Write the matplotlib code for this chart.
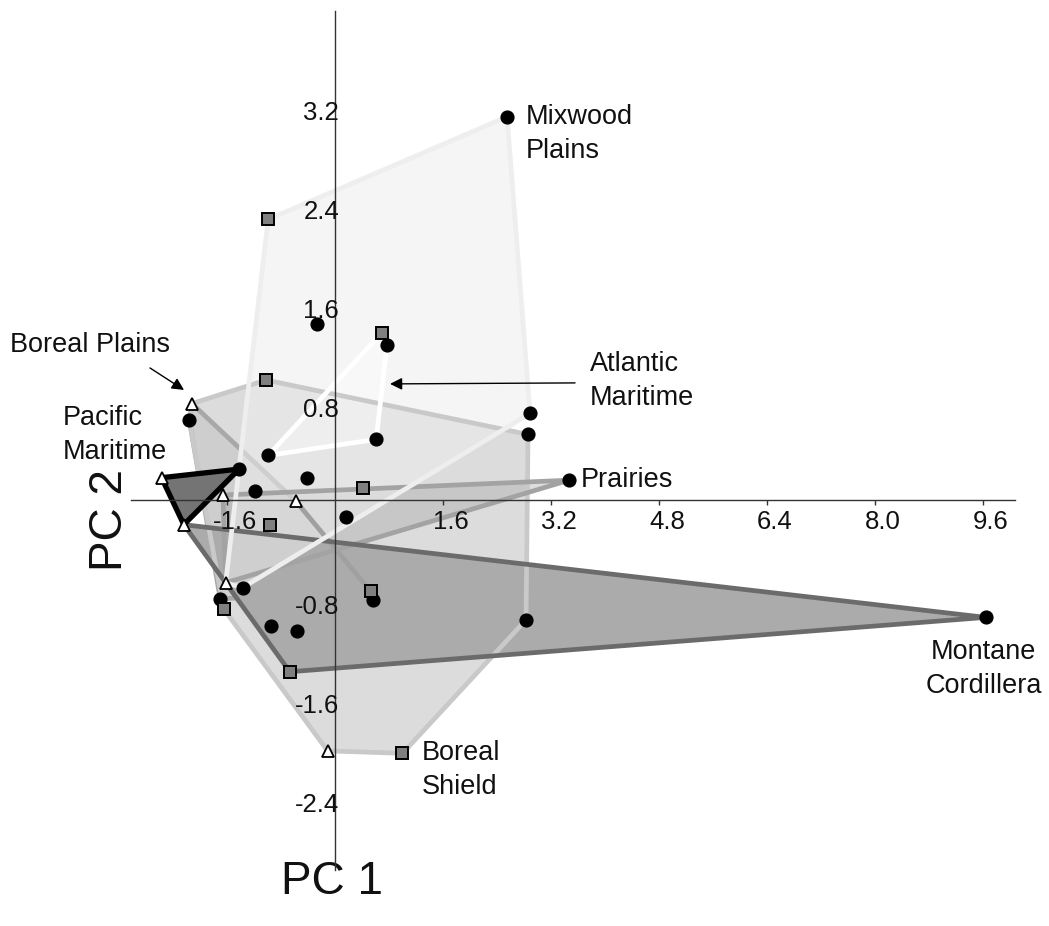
import matplotlib
matplotlib.use("Agg")
import matplotlib.pyplot as plt
from matplotlib.transforms import ScaledTranslation

plt.rcParams['font.family'] = ['Liberation Sans', 'DejaVu Sans']

# ---------------- data (PC scores) ----------------
circle_pc1 = [2.55, -0.26, 0.77, -2.16, 0.61, -0.99, -1.42, -0.42, -1.19, 0.17,
              2.89, 2.86, 3.47, -1.37, -1.70, -0.95, -0.56, 0.56, 2.83, 9.64]
circle_pc2 = [3.10, 1.42, 1.25, 0.65, 0.49, 0.36, 0.25, 0.18, 0.07, -0.14,
              0.70, 0.53, 0.16, -0.71, -0.80, -1.02, -1.06, -0.81, -0.97, -0.95]
triangle_pc1 = [-2.12, -2.57, -1.66, -0.58, -2.24, -1.62, -0.11]
triangle_pc2 = [0.78, 0.18, 0.04, -0.01, -0.20, -0.67, -2.03]
square_pc1 = [-0.99, 0.69, -1.02, 0.41, -0.97, 0.53, -1.65, -0.67, 1.00]
square_pc2 = [2.27, 1.35, 0.97, 0.10, -0.20, -0.74, -0.88, -1.39, -2.05]

# convex-hull vertices of each ecozone
mixwood_pc1 = [-0.99, 2.55, 2.89, -1.37, -1.62]
mixwood_pc2 = [2.27, 3.10, 0.70, -0.71, -0.67]
atlantic_pc1 = [-0.99, 0.69, 0.77, 0.61]
atlantic_pc2 = [0.36, 1.35, 1.25, 0.49]
shield_pc1 = [-2.12, -1.02, 2.86, 2.83, 1.00, -0.11, -1.65, -2.16]
shield_pc2 = [0.78, 0.97, 0.53, -0.97, -2.05, -2.03, -0.88, 0.65]
bplains_pc1 = [-2.12, -0.58, 0.53, -1.70, -2.16]
bplains_pc2 = [0.78, -0.01, -0.74, -0.80, 0.65]
prairies_pc1 = [-1.66, 3.47, -1.62]
prairies_pc2 = [0.04, 0.16, -0.67]
montane_pc1 = [-2.24, 9.64, -0.67, -1.62]
montane_pc2 = [-0.20, -0.95, -1.39, -0.67]
pacific_pc1 = [-2.57, -1.42, -2.24]
pacific_pc2 = [0.18, 0.25, -0.20]

xtick_values = [-1.6, 1.6, 3.2, 4.8, 6.4, 8.0, 9.6]
ytick_values = [-2.4, -1.6, -0.8, 0.8, 1.6, 2.4, 3.2]
xtick_labels = ["-1.6", "1.6", "3.2", "4.8", "6.4", "8.0", "9.6"]
ytick_labels = ["-2.4", "-1.6", "-0.8", "0.8", "1.6", "2.4", "3.2"]

# ---------------- figure ----------------
fig = plt.figure(figsize=(10.49, 9.26), dpi=100)
ax = fig.add_axes([0, 0, 1, 1])
ax.set_xlim(-4.963, 10.578)
ax.set_ylim(-3.447, 4.045)
ax.patch.set_visible(False)

LW = 3.4
# fills (order matters)
ax.fill(shield_pc1, shield_pc2, facecolor='#dcdcdc', edgecolor='none', zorder=1.0)
ax.fill(bplains_pc1, bplains_pc2, facecolor='#b0b0b0', alpha=0.3, edgecolor='none', zorder=1.1)
ax.fill(bplains_pc1, bplains_pc2, facecolor='none', edgecolor='#a8a8a8', lw=LW,
        joinstyle='round', zorder=1.2)
ax.fill(prairies_pc1, prairies_pc2, facecolor='#a0a0a0', alpha=0.35, edgecolor='none', zorder=1.3)
ax.fill(montane_pc1, montane_pc2, facecolor='#ababab', edgecolor='none', zorder=2.0)
ax.fill(mixwood_pc1, mixwood_pc2, facecolor='#eeeeee', alpha=0.55, edgecolor='none', zorder=2.2)
ax.fill(atlantic_pc1, atlantic_pc2, facecolor='white', alpha=0.35, edgecolor='none', zorder=2.3)

# outlines
ax.plot(bplains_pc1[1:3], bplains_pc2[1:3], color='#a0a0a0', lw=LW,
        solid_capstyle='round', zorder=2.9)
ax.fill(shield_pc1, shield_pc2, facecolor='none', edgecolor='#c9c9c9', lw=LW, joinstyle='round', zorder=3.0)
ax.fill(prairies_pc1, prairies_pc2, facecolor='none', edgecolor='#a3a3a3', lw=LW, joinstyle='round', zorder=3.1)
ax.fill(montane_pc1, montane_pc2, facecolor='none', edgecolor='#6b6b6b', lw=LW, joinstyle='round', zorder=3.2)
ax.fill(mixwood_pc1, mixwood_pc2, facecolor='none', edgecolor='#eeeeee', lw=LW, joinstyle='round', zorder=3.3)
ax.fill(atlantic_pc1, atlantic_pc2, facecolor='none', edgecolor='white', lw=LW, joinstyle='round', zorder=3.4)
ax.fill(pacific_pc1, pacific_pc2, facecolor='#747474', edgecolor='black', lw=3.8,
        joinstyle='round', zorder=3.6)

# markers
ax.plot(circle_pc1, circle_pc2, 'o', ms=9.2, mfc='black', mec='black', ls='none', zorder=10)
ax.plot(triangle_pc1, triangle_pc2, '^', ms=9, mfc='white', mec='black', mew=1.3, ls='none', zorder=10)
ax.plot(square_pc1, square_pc2, 's', ms=8, mfc='#808080', mec='black', mew=1.4, ls='none', zorder=10)

# axes through origin
for s in ['top', 'right']:
    ax.spines[s].set_visible(False)
ax.spines['bottom'].set_position(('data', 0))
ax.spines['left'].set_position(('data', 0))
ax.spines['bottom'].set_bounds(-3.02, 10.07)
ax.spines['left'].set_bounds(-2.99, 3.96)
for s in ['bottom', 'left']:
    ax.spines[s].set_color('#333333')
    ax.spines[s].set_linewidth(1.0)
    ax.spines[s].set_zorder(8)
ax.xaxis.set_zorder(9)
ax.yaxis.set_zorder(9)

ax.set_xticks(xtick_values, xtick_labels)
ax.set_yticks(ytick_values, ytick_labels)
ax.tick_params(axis='x', direction='out', length=3.5, width=1, color='#333333', pad=4,
               labelsize=18.5, labelcolor='#111111')
ax.tick_params(axis='y', length=0, pad=-3, labelsize=18.5, labelcolor='#111111')
for lab in ax.get_xticklabels():
    lab.set_transform(lab.get_transform() + ScaledTranslation(0.08, 0, fig.dpi_scale_trans))
for lab in ax.get_yticklabels():
    lab.set_transform(lab.get_transform() + ScaledTranslation(0, -0.06, fig.dpi_scale_trans))

# ecozone labels
FS = 19.5
LG = 0.275  # line gap in PC2 units
def label(x, y, lines, ha='left'):
    for i, t in enumerate(lines):
        ax.text(x, y - i * LG, t, fontsize=FS, ha=ha, va='center', color='#111111', zorder=11)

label(2.83, 3.10, ["Mixwood", "Plains"])
label(3.78, 1.10, ["Atlantic", "Maritime"])
label(3.64, 0.16, ["Prairies"])
label(9.61, -1.23, ["Montane", "Cordillera"], ha='center')
label(1.28, -2.05, ["Boreal", "Shield"])
label(-4.815, 1.254, ["Boreal Plains"])
label(-4.03, 0.663, ["Pacific", "Maritime"])

arrow = dict(arrowstyle='-|>', color='black', lw=1.0, shrinkA=0, shrinkB=0, mutation_scale=18)
ax.annotate('', xy=(0.815, 0.939), xytext=(3.556, 0.947), arrowprops=arrow, zorder=11)
ax.annotate('', xy=(-2.237, 0.890), xytext=(-2.741, 1.068), arrowprops=arrow, zorder=11)

ax.text(-0.044, -3.091, "PC 1", fontsize=33, ha='center', va='center', color='#111111')
ax.text(-3.333, -0.162, "PC 2", fontsize=33, ha='center', va='center', rotation=90, color='#111111')

fig.savefig("out.png", dpi=100)
